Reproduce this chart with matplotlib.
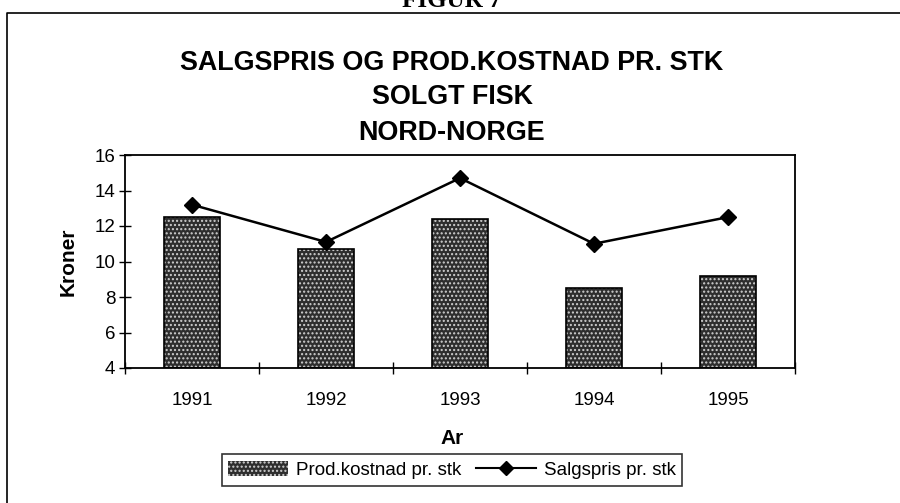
import matplotlib
matplotlib.use("Agg")
import matplotlib.pyplot as plt
from matplotlib.patches import Patch
from matplotlib.lines import Line2D
import numpy as np

years = ["1991", "1992", "1993", "1994", "1995"]
prod_kostnad = [12.5, 10.7, 12.4, 8.5, 9.2]
salgspris = [13.2, 11.1, 14.7, 11.0, 12.5]
title_lines = ["SALGSPRIS OG PROD.KOSTNAD PR. STK", "SOLGT FISK", "NORD-NORGE"]
y_ticks = [4, 6, 8, 10, 12, 14, 16]

plt.rcParams['font.family'] = ['Liberation Sans', 'DejaVu Sans']

W, H = 900, 503
fig = plt.figure(figsize=(9, 5.03), dpi=100)

def fx(px):
    return px / W

def fy(py):
    return 1 - py / H

ax = fig.add_axes([fx(125), fy(368), fx(795) - fx(125), fy(155) - fy(368)])

x = np.arange(len(years))
bw = 0.42
base = 4
heights = [v - base for v in prod_kostnad]
ax.bar(x, heights, bw, bottom=base, color='#2e2e2e', edgecolor='#d0d0d0',
       hatch='....', linewidth=0, zorder=2)
ax.bar(x, heights, bw, bottom=base, fill=False, edgecolor='black',
       linewidth=1.2, zorder=3)
ax.plot(x, salgspris, color='black', lw=1.8, marker='D', ms=8,
        markerfacecolor='black', zorder=4)

ax.set_xlim(-0.5, len(years) - 0.5)
ax.set_ylim(4, 16)
ax.set_yticks(y_ticks)
ax.set_yticklabels([str(t) for t in y_ticks], fontsize=13.5)
ax.set_xticks(np.arange(len(years) + 1) - 0.5)
ax.set_xticklabels([])
ax.set_xticks(x, minor=True)
ax.set_xticklabels(years, minor=True, fontsize=13.5)
ax.tick_params(axis='x', which='major', direction='inout', length=8, width=1)
ax.tick_params(axis='x', which='minor', length=0, pad=17)
ax.tick_params(axis='y', direction='inout', length=8, width=1, pad=3)
for s in ax.spines.values():
    s.set_linewidth(1.3)

ax.set_ylabel("Kroner", fontsize=15, fontweight='bold', labelpad=12)
fig.text(fx(452), fy(438), "Ar", ha='center', va='center', fontsize=15,
         fontweight='bold')

for txt, py in zip(title_lines, [63, 97, 133]):
    fig.text(fx(452), fy(py), txt, ha='center', va='center', fontsize=19.4,
             fontweight='bold')

fig.text(fx(452), fy(7), "FIGUR 7", ha='center', va='baseline', fontsize=18,
         fontweight='bold', family=['Liberation Serif', 'DejaVu Serif'])

# outer frame
fig.add_artist(Line2D([fx(7), fx(7), fx(900)], [fy(503), fy(13), fy(13)],
                      color='black', lw=1.2, transform=fig.transFigure))

handles = [Patch(facecolor='#2e2e2e', edgecolor='#d0d0d0', hatch='....', linewidth=0),
           Line2D([0], [0], color='black', lw=1.5, marker='D', ms=7)]
labels = ["Prod.kostnad pr. stk", "Salgspris pr. stk"]
leg = fig.legend(handles, labels, loc='center', bbox_to_anchor=(fx(452), fy(470)),
                 ncol=2, fontsize=13.5, frameon=True, fancybox=False,
                 edgecolor='black', handlelength=3.2, handleheight=0.9,
                 handletextpad=0.4, columnspacing=0.8, borderpad=0.35,
                 borderaxespad=0)
leg.get_frame().set_linewidth(1.2)

fig.savefig("out.png", dpi=100)
